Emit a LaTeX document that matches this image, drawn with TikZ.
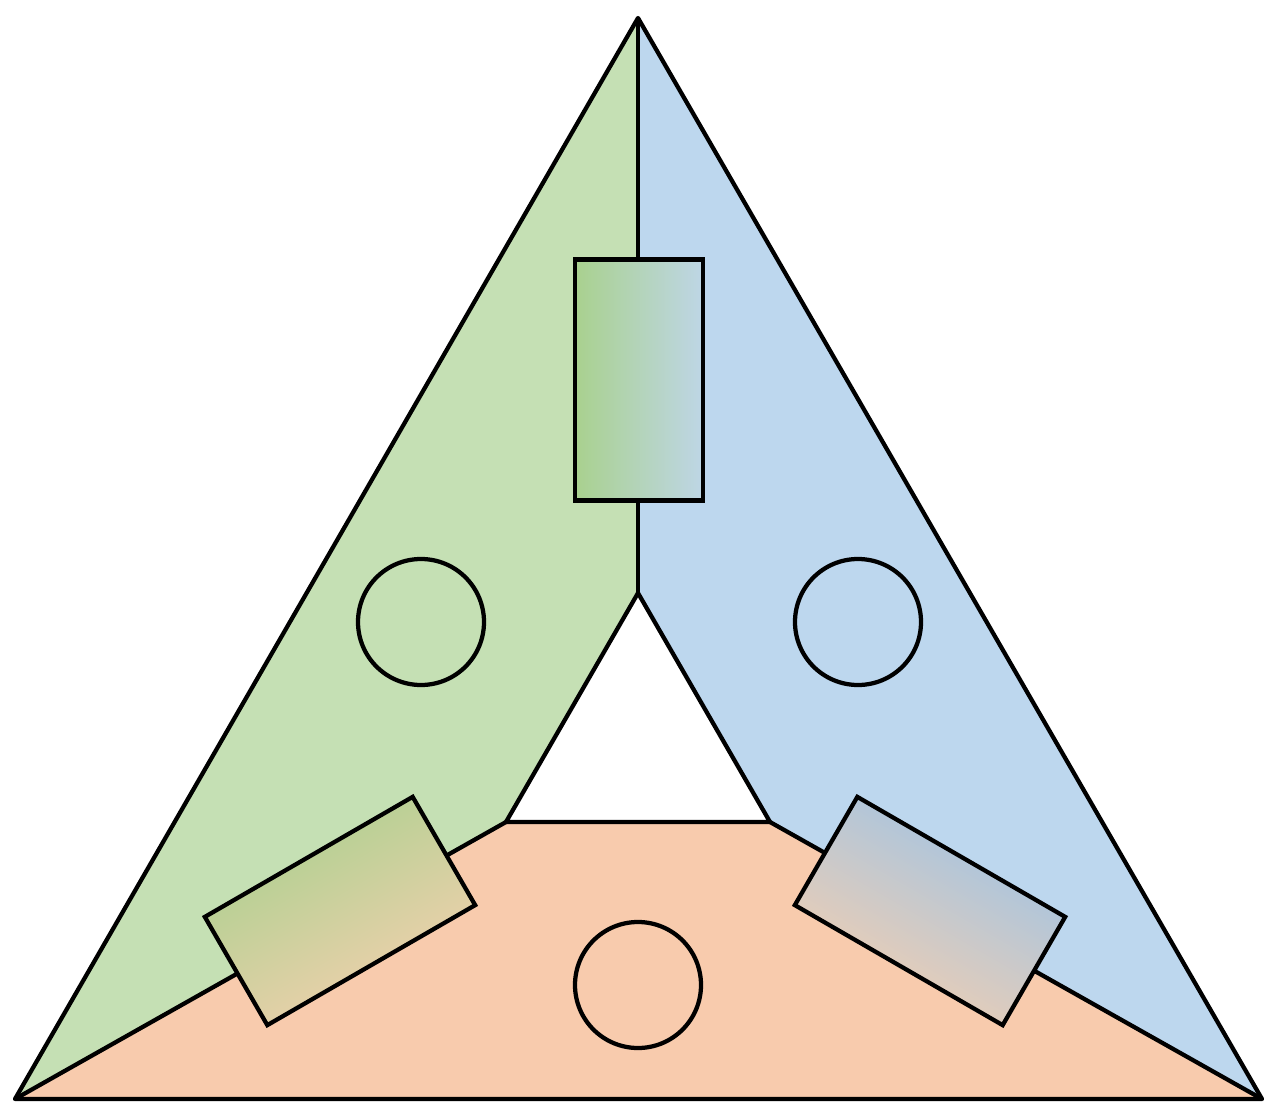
\documentclass[tikz,border=0pt]{standalone}
\usetikzlibrary{positioning}
\definecolor{leafgreen}{HTML}{C5E0B4}
\definecolor{skyblue}{HTML}{BDD7EE}
\definecolor{peach}{HTML}{F8CBAD}
\definecolor{deepgreen}{HTML}{A9D18E}
\definecolor{deepblue}{HTML}{9DC3E6}
\definecolor{palepeach}{HTML}{F5CFAF}
\definecolor{greyblue}{HTML}{BED6E6}

\begin{document}
\begin{tikzpicture}[
    x=0.2mm, y=-0.2mm,
    zone/.style={line width=0.85mm, line join=round},
    hole/.style={draw, circle, line width=0.85mm, minimum size=25.2mm, inner sep=0pt},
    block/.style={draw, line width=0.85mm, minimum width=48mm, minimum height=25mm, inner sep=0pt}
]
\useasboundingbox (0,0) rectangle (1266,1103);

% corners of the outer and inner triangles
\coordinate (apex) at (638,18);
\coordinate (bl) at (15,1099);
\coordinate (br) at (1262,1099);
\coordinate (it) at (638,593);
\coordinate (il) at (506,822);
\coordinate (ir) at (770,822);

% three zones
\fill[leafgreen] (apex) -- (it) -- (il) -- (bl) -- cycle;
\fill[skyblue] (apex) -- (br) -- (ir) -- (it) -- cycle;
\fill[peach] (il) -- (ir) -- (br) -- (bl) -- cycle;

\draw[zone] (apex) -- (bl) -- (br) -- cycle;
\draw[zone] (apex) -- (it);
\draw[zone] (it) -- (il) -- (ir) -- cycle;
\draw[zone] (il) -- (bl);
\draw[zone] (ir) -- (br);

% holes
\node[hole] (holeL) at (421,622) {};
\node[hole] (holeR) at (858,622) {};
\node[hole] (holeB) at (638,985) {};

% blocks across the borders
\node[block, minimum width=25.6mm, minimum height=48.2mm,
      left color=deepgreen, right color=greyblue] (blockT) at (639,380) {};
\node[block, rotate=30, top color=deepgreen, bottom color=palepeach,
      shading angle=30] (blockL) at (340,911) {};
\node[block, rotate=-30, top color=deepblue, bottom color=palepeach,
      shading angle=-30] (blockR) at (930,911) {};
\end{tikzpicture}
\end{document}
